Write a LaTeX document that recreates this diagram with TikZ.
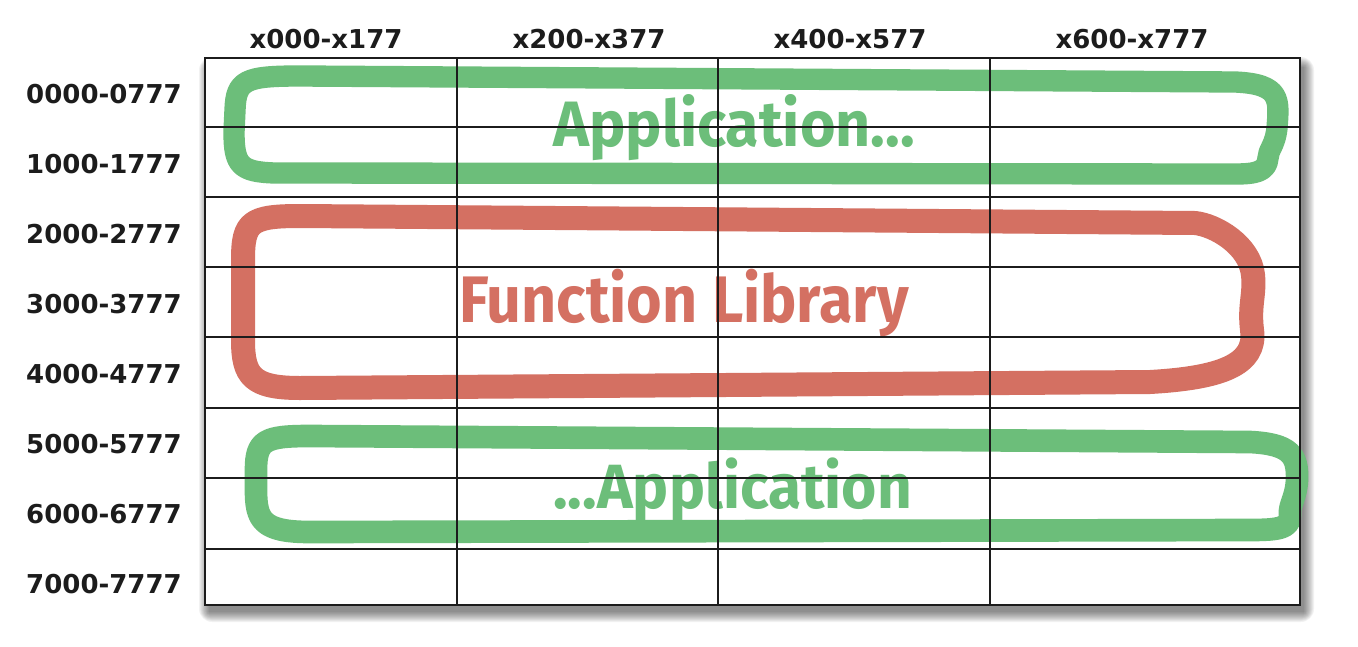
\documentclass[tikz,border=0pt]{standalone}
\usepackage{fontspec}
\newfontfamily\lblfont{DejaVu Sans}
\newfontfamily\handfont{Fira Sans}
\definecolor{appgreen}{RGB}{108,190,122}
\definecolor{libred}{RGB}{212,112,98}
\definecolor{ink}{RGB}{28,28,28}
\begin{document}
\begin{tikzpicture}[x=0.75pt,y=-0.75pt,
  lbl/.style={font=\lblfont\bfseries\fontsize{19.5}{23}\selectfont, text=ink, inner sep=0pt},
  handtext/.style={inner sep=0pt, anchor=base west},
  marker/.style={line cap=round, line join=round},
  gridline/.style={line width=1.6pt, draw=ink},
  frame/.style={line width=2pt, draw=ink}]
\useasboundingbox (0,0) rectangle (1358,646);

% corners of the table
\coordinate (tl) at (205,58);
\coordinate (br) at (1300,605);

% soft drop shadow under the table
\foreach \k in {0,...,10}
  \fill[black, fill opacity=0.05, rounded corners=\k pt]
    ({209-\k},{67-\k}) rectangle ({1304+\k},{612+\k});
\fill[white] (tl) rectangle (br);

% hand-drawn regions
\draw[marker, appgreen, line width=16pt]
  (300,76) -- (1235,82)
  .. controls (1282,84) and (1279,100) .. (1277,128)
  .. controls (1275,146) and (1268,150) .. (1268,158)
  .. controls (1267,172) and (1255,174) .. (1235,174)
  -- (275,173)
  .. controls (240,172) and (234,165) .. (234,132)
  -- (235,110)
  .. controls (236,80) and (245,76) .. (300,76) -- cycle;
\draw[marker, libred, line width=18pt]
  (300,216) -- (1195,223)
  .. controls (1215,225) and (1250,245) .. (1253,275)
  .. controls (1255,295) and (1249,305) .. (1252,330)
  .. controls (1257,365) and (1220,378) .. (1150,382)
  -- (300,388)
  .. controls (252,388) and (243,376) .. (243,340)
  -- (243,260)
  .. controls (243,222) and (250,216) .. (300,216) -- cycle;
\draw[marker, appgreen, line width=17pt]
  (310,436) -- (1250,442)
  .. controls (1290,444) and (1298,455) .. (1297,480)
  .. controls (1296,498) and (1289,505) .. (1290,514)
  .. controls (1291,528) and (1280,530) .. (1250,530)
  -- (310,532)
  .. controls (262,532) and (256,520) .. (256,490)
  -- (256,470)
  .. controls (256,440) and (265,436) .. (310,436) -- cycle;

% region captions
\node[handtext, text=appgreen] (apptop) at (553,146)
  {\resizebox{271pt}{39pt}{\handfont\bfseries Application...}};
\node[handtext, text=libred] (funclib) at (459,322)
  {\resizebox{337pt}{40pt}{\handfont\bfseries Function Library}};
\node[handtext, text=appgreen] (appbot) at (553,508)
  {\resizebox{269pt}{38pt}{\handfont\bfseries ...Application}};

% table rules
\foreach \xx in {457,718,990}
  \draw[gridline] (\xx,58) -- (\xx,605);
\foreach \yy in {127,197,267,337,408,478,549}
  \draw[gridline] (205,\yy) -- (1300,\yy);
\draw[frame] (tl) rectangle (br);

% column headings
\node[lbl, anchor=base] (c0) at (326,48) {x000-x177};
\node[lbl, anchor=base] (c1) at (589,48) {x200-x377};
\node[lbl, anchor=base] (c2) at (850,48) {x400-x577};
\node[lbl, anchor=base] (c3) at (1132,48) {x600-x777};

% row headings
\node[lbl, anchor=base east] (r0) at (182,103) {0000-0777};
\node[lbl, anchor=base east] (r1) at (182,173) {1000-1777};
\node[lbl, anchor=base east] (r2) at (182,243) {2000-2777};
\node[lbl, anchor=base east] (r3) at (182,313) {3000-3777};
\node[lbl, anchor=base east] (r4) at (182,383) {4000-4777};
\node[lbl, anchor=base east] (r5) at (182,453) {5000-5777};
\node[lbl, anchor=base east] (r6) at (182,523) {6000-6777};
\node[lbl, anchor=base east] (r7) at (182,593) {7000-7777};
\end{tikzpicture}
\end{document}
